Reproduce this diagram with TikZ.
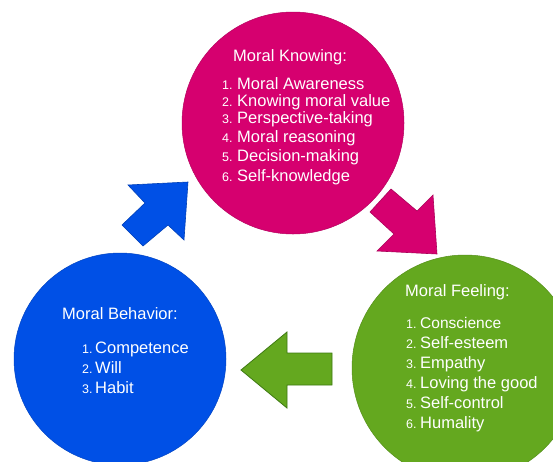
\documentclass[tikz,border=0pt]{standalone}
\usepackage{fontspec}
\setmainfont{Liberation Sans}
\definecolor{kpink}{HTML}{D6006F}
\definecolor{kblue}{HTML}{0050E6}
\definecolor{kgreen}{HTML}{64A81F}
\definecolor{kgreenline}{HTML}{3E7A12}
\newcommand{\nm}[2]{\makebox[#1][l]{\fontsize{12.5}{13}\selectfont #2}}
\begin{document}
\begin{tikzpicture}[x=1pt,y=-1pt,
  ball/.style={circle,inner sep=0pt,draw=#1!85!black,fill=#1,line width=0.5pt},
  ttl/.style={anchor=base west,text=white,inner sep=0pt,font=\fontsize{16.5}{18}\selectfont},
  itm/.style={anchor=base west,text=white,inner sep=0pt,font=\fontsize{16.5}{18}\selectfont},
  blockarrow/.style={fill=#1,draw=#1!80!black,line width=0.6pt,line join=miter}]
\clip (0,0) rectangle (553,461);
\fill[white] (0,0) rectangle (553,461);
% circles
\node[ball=kpink,minimum size=222pt] (know) at (293,123) {};
\node[ball=kgreen,minimum size=226pt] (feel) at (465,368) {};
\node[ball=kblue,minimum size=212pt] (behav) at (120,359) {};
% arrows
\draw[blockarrow=kblue] (122,225) -- (145,203) -- (128,185) -- (188,182) -- (184,240) -- (168,225) -- (143,246) -- cycle;
\draw[blockarrow=kpink] (370,212) -- (391,189) -- (417,211) -- (433,195) -- (437,254) -- (377,251) -- (394,234) -- cycle;
\draw[fill=kgreen,draw=kgreenline,line width=0.8pt] (241,370) -- (287,332) -- (287,353) -- (332,353) -- (332,385) -- (287,385) -- (287,408) -- cycle;
% Moral Knowing
\node[ttl] (kt) at (233,61) {Moral Knowing:};
\node[itm] (k1) at (222,89) {\nm{15pt}{1.}Moral Awareness};
\node[itm] (k2) at (222,106) {\nm{15pt}{2.}Knowing moral value};
\node[itm] (k3) at (222,123) {\nm{15pt}{3.}Perspective-taking};
\node[itm] (k4) at (222,142) {\nm{15pt}{4.}Moral reasoning};
\node[itm] (k5) at (222,161) {\nm{15pt}{5.}Decision-making};
\node[itm] (k6) at (222,181) {\nm{15pt}{6.}Self-knowledge};
% Moral Feeling
\node[ttl] (ft) at (405,296) {Moral Feeling:};
\node[itm,font=\fontsize{15.5}{18}\selectfont] (f1) at (406,328) {\nm{14pt}{1.}Conscience};
\node[itm] (f2) at (406,348) {\nm{14pt}{2.}Self-esteem};
\node[itm] (f3) at (406,368) {\nm{14pt}{3.}Empathy};
\node[itm] (f4) at (406,388) {\nm{14pt}{4.}Loving the good};
\node[itm] (f5) at (406,408) {\nm{14pt}{5.}Self-control};
\node[itm] (f6) at (406,428) {\nm{14pt}{6.}Humality};
% Moral Behavior
\node[ttl] (bt) at (62,319) {Moral Behavior:};
\node[itm] (b1) at (82,353) {\nm{13pt}{1.}Competence};
\node[itm] (b2) at (82,373) {\nm{13pt}{2.}Will};
\node[itm] (b3) at (82,393) {\nm{13pt}{3.}Habit};
\end{tikzpicture}
\end{document}
